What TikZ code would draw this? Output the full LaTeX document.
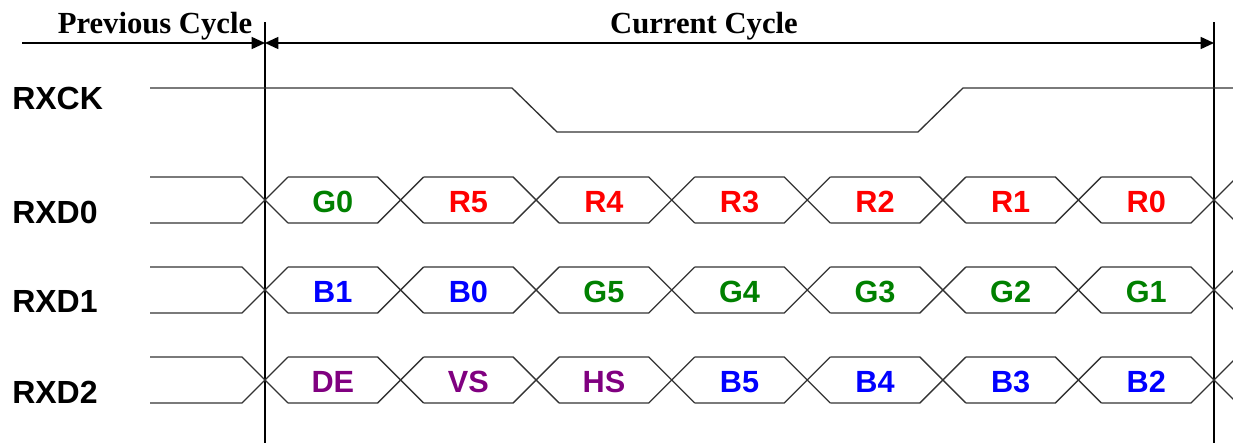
\documentclass[tikz,border=0pt]{standalone}
\usepackage{fontspec}
\usetikzlibrary{positioning,arrows.meta}
\newfontfamily\sigfont{Liberation Sans}
\newfontfamily\cyclefont{Liberation Serif}
\definecolor{dgreen}{RGB}{0,128,0}
\definecolor{dpurple}{RGB}{128,0,128}
\newcommand\period{135.57}

\begin{document}
\begin{tikzpicture}[
    x=0.75pt, y=-0.75pt,
    signame/.style={%
      anchor=base west,
      inner sep=0pt,
      font=\sigfont\bfseries\fontsize{24}{24}\selectfont,
    },
    cell/.style={%
      inner sep=0pt,
      text height=16.5pt,
      text depth=0pt,
      font=\sigfont\bfseries\fontsize{23}{23}\selectfont,
    },
    cycle/.style={%
      anchor=base,
      inner sep=0pt,
      font=\cyclefont\bfseries\fontsize{23}{23}\selectfont,
    },
    wave/.style={line width=1pt, black!80},
    marker/.style={line width=1.2pt},
    span/.style={line width=1.2pt},
    tip/.tip={Triangle[length=10pt,width=9pt]},
  ]

    \useasboundingbox (0,0) rectangle (1233,443);

    % cycle markers
    \coordinate (prevL) at (22,43);
    \coordinate (split) at (265,43);
    \coordinate (curR) at (1214,43);
    \coordinate (splitTop) at (265,22);
    \coordinate (splitBot) at (265,443);
    \coordinate (endTop) at (1214,22);
    \coordinate (endBot) at (1214,443);

    \node [cycle] (prev) at (155,33) {Previous Cycle};
    \node [cycle] (cur) at (704,33) {Current Cycle};

    \draw [span,-tip] (prevL) -- (split);
    \draw [span,tip-tip] (split) -- (curR);
    \draw [marker] (splitTop) -- (splitBot);
    \draw [marker] (endTop) -- (endBot);

    % signal names
    \node [signame] (rxck) at (12,109) {RXCK};
    \node [signame] (rxd0) at (12,223) {RXD0};
    \node [signame] (rxd1) at (12,312) {RXD1};
    \node [signame] (rxd2) at (12,403) {RXD2};

    % clock
    \draw [wave] (150,88) -- (512,88) -- (557,132) -- (918,132) -- (963,88) -- (1233,88);

    % data buses
    \foreach \yc in {200,290,380} {
      \draw [wave] (150,\yc-23) -- (242,\yc-23) -- (288,\yc+23);
      \draw [wave] (150,\yc+23) -- (242,\yc+23) -- (288,\yc-23);
      \foreach \i in {0,...,6} {
        \draw [wave] ({265+\i*\period+23},\yc-23) -- ({265+(\i+1)*\period-23},\yc-23)
          -- ({265+(\i+1)*\period+23},\yc+23);
        \draw [wave] ({265+\i*\period+23},\yc+23) -- ({265+(\i+1)*\period-23},\yc+23)
          -- ({265+(\i+1)*\period+23},\yc-23);
      }
    }

    \node [cell,dgreen] (g0) at (332.8,201) {G0};
    \path (g0) ++(\period,0) node [cell,red] (r5) {R5};
    \path (r5) ++(\period,0) node [cell,red] (r4) {R4};
    \path (r4) ++(\period,0) node [cell,red] (r3) {R3};
    \path (r3) ++(\period,0) node [cell,red] (r2) {R2};
    \path (r2) ++(\period,0) node [cell,red] (r1) {R1};
    \path (r1) ++(\period,0) node [cell,red] (r0) {R0};

    \node [cell,blue] (b1) at (332.8,291) {B1};
    \path (b1) ++(\period,0) node [cell,blue] (b0) {B0};
    \path (b0) ++(\period,0) node [cell,dgreen] (g5) {G5};
    \path (g5) ++(\period,0) node [cell,dgreen] (g4) {G4};
    \path (g4) ++(\period,0) node [cell,dgreen] (g3) {G3};
    \path (g3) ++(\period,0) node [cell,dgreen] (g2) {G2};
    \path (g2) ++(\period,0) node [cell,dgreen] (g1) {G1};

    \node [cell,dpurple] (de) at (332.8,381) {DE};
    \path (de) ++(\period,0) node [cell,dpurple] (vs) {VS};
    \path (vs) ++(\period,0) node [cell,dpurple] (hs) {HS};
    \path (hs) ++(\period,0) node [cell,blue] (b5) {B5};
    \path (b5) ++(\period,0) node [cell,blue] (b4) {B4};
    \path (b4) ++(\period,0) node [cell,blue] (b3) {B3};
    \path (b3) ++(\period,0) node [cell,blue] (b2) {B2};
\end{tikzpicture}
\end{document}
